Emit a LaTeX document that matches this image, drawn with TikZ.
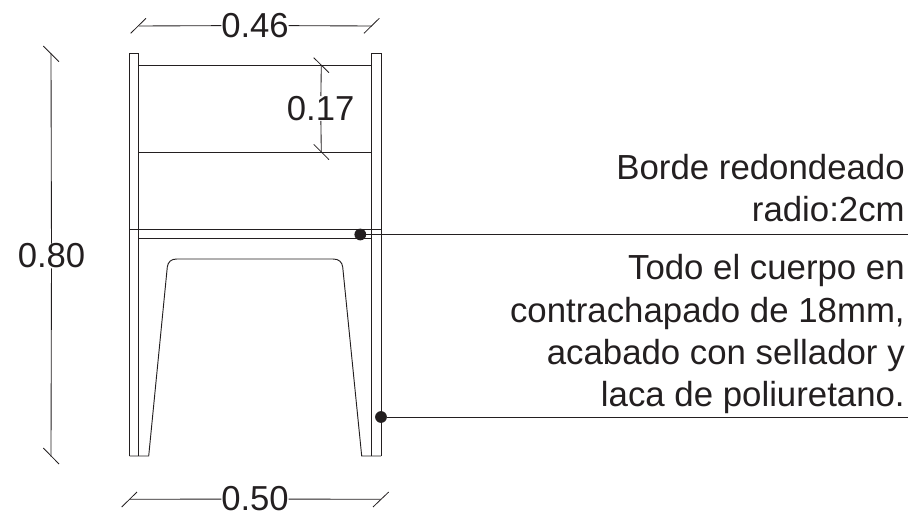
\documentclass[tikz,border=0pt]{standalone}
\usepackage{fontspec}
\setmainfont{Liberation Sans}
\definecolor{ink}{HTML}{231F20}
\tikzset{
  plan/.style={draw=ink,line width=0.7pt,line join=miter},
  heavy/.style={draw=ink,line width=1.2pt},
  dimline/.style={draw=ink,line width=0.65pt},
  tick/.style={draw=ink,line width=0.6pt},
  dimtext/.style={text=ink,font=\fontsize{26}{30}\selectfont,inner sep=0pt,outer sep=0pt},
  note/.style={text=ink,font=\fontsize{26.1}{30}\selectfont,inner sep=0pt,anchor=base east},
  dotmark/.style={circle,fill=ink,inner sep=0pt,minimum size=8.8pt}
}
\begin{document}
\begin{tikzpicture}[x=0.75pt,y=-0.75pt]
\useasboundingbox (0,0) rectangle (912,516);
% posts
\draw[plan] (129.5,456) -- (129.5,53) -- (138.5,53) -- (138.5,456);
\draw[plan] (371.7,456) -- (371.7,53) -- (381,53) -- (381,456);
% backrest
\draw[plan] (138.5,65) -- (371.7,65);
\draw[plan] (138.5,152) -- (371.7,152);
% seat
\draw[plan] (129.5,229.7) -- (381,229.7);
\draw[heavy] (138.5,238.7) -- (371.7,238.7);
% legs opening
\draw[plan] (129.5,456) -- (148.7,456) -- (167.3,267)
  .. controls (168,262) and (171,259) .. (176.7,259) -- (333,259)
  .. controls (339,259) and (342,262) .. (342.7,267)
  -- (361.7,456) -- (381,456);
% dimension 0.46
\node[dimtext] (d46) at (255,25.5) {0.46};
\coordinate (d46a) at (138.5,26);
\coordinate (d46b) at (371.7,26);
\draw[dimline] (d46a) -- (d46);
\draw[dimline] (d46) -- (d46b);
\draw[tick] (130.7,33.3) -- (146,18.3);
\draw[tick] (364,33.3) -- (379.3,18.3);
% dimension 0.17
\node[dimtext] (d17) at (320.7,108.5) {0.17};
\coordinate (d17a) at (321.3,65);
\coordinate (d17b) at (321.3,152);
\draw[dimline] (d17a) -- (d17);
\draw[dimline] (d17) -- (d17b);
\draw[tick] (313.7,57.7) -- (329,72.7);
\draw[tick] (313.7,144.3) -- (329,159.7);
% dimension 0.50
\node[dimtext] (d50) at (255,499) {0.50};
\coordinate (d50a) at (129.5,499.3);
\coordinate (d50b) at (381,499.3);
\draw[dimline] (d50a) -- (d50);
\draw[dimline] (d50) -- (d50b);
\draw[tick] (121.7,507) -- (137,492);
\draw[tick] (373,507) -- (388.7,492);
% dimension 0.80
\node[dimtext] (d80) at (51.5,256) {0.80};
\coordinate (d80a) at (51,53.5);
\coordinate (d80b) at (51,456.5);
\draw[dimline] (d80a) -- (d80);
\draw[dimline] (d80) -- (d80b);
\draw[tick] (43.3,46) -- (59,61.7);
\draw[tick] (43.3,448) -- (59,464);
% leaders
\node[dotmark] (p1) at (360.3,234.5) {};
\coordinate (e1) at (908,234.5);
\draw[plan] (p1) -- (e1);
\node[dotmark] (p2) at (381,417) {};
\coordinate (e2) at (908,417);
\draw[plan] (p2) -- (e2);
% notes
\node[note] (n1) at (905,180) {Borde redondeado};
\node[note] (n2) at (905,222) {radio:2cm};
\node[note] (n3) at (905,280) {Todo el cuerpo en};
\node[note] (n4) at (905,322) {contrachapado de 18mm,};
\node[note] (n5) at (905,364) {acabado con sellador y};
\node[note] (n6) at (905,406) {laca de poliuretano.};
\end{tikzpicture}
\end{document}
